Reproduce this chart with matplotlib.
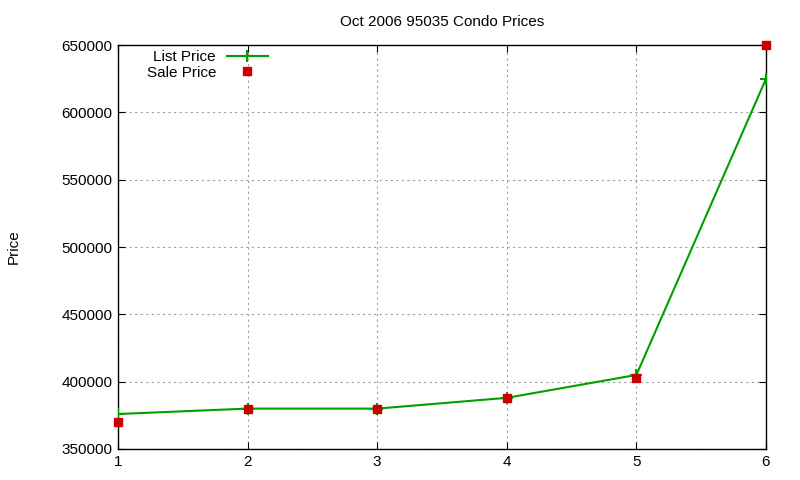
import matplotlib.pyplot as plt

plt.rcParams['font.family'] = ['Liberation Sans', 'DejaVu Sans']

unit = [1, 2, 3, 4, 5, 6]
list_price = [376000, 380000, 380000, 388000, 405000, 625000]
sale_price = [370000, 380000, 380000, 388000, 402500, 650000]
yticks = [350000, 400000, 450000, 500000, 550000, 600000, 650000]

fig = plt.figure(figsize=(8, 4.8), dpi=100)
ax = fig.add_axes([0.1475, 0.0646, 0.81, 0.8414])

ax.plot(unit, list_price, color='#00a000', lw=1.5, marker='+', ms=8, mew=1.5,
        label='List Price', zorder=3)
ax.plot(unit, sale_price, ls='none', color='#cc0000', marker='s', ms=6,
        label='Sale Price', zorder=4, clip_on=False)

ax.set_xlim(1, 6)
ax.set_ylim(350000, 650000)
ax.set_xticks(unit)
ax.set_yticks(yticks)
ax.tick_params(direction='in', top=True, right=True, labelsize=11, length=5,
               pad=4)
ax.grid(True, ls=(0, (2, 3)), color='#a0a0a0', lw=0.8)
for s in ax.spines.values():
    s.set_linewidth(1.0)

ax.set_title('Oct 2006 95035 Condo Prices', fontsize=11, pad=14)
ax.set_ylabel('Price', fontsize=11, labelpad=29)

leg = ax.legend(loc='upper left', frameon=False, markerfirst=False,
                fontsize=11, handlelength=2.7, handletextpad=0.7,
                borderaxespad=0.2, labelspacing=0.1,
                bbox_to_anchor=(0.03, 1.01))

fig.savefig('out.png')
